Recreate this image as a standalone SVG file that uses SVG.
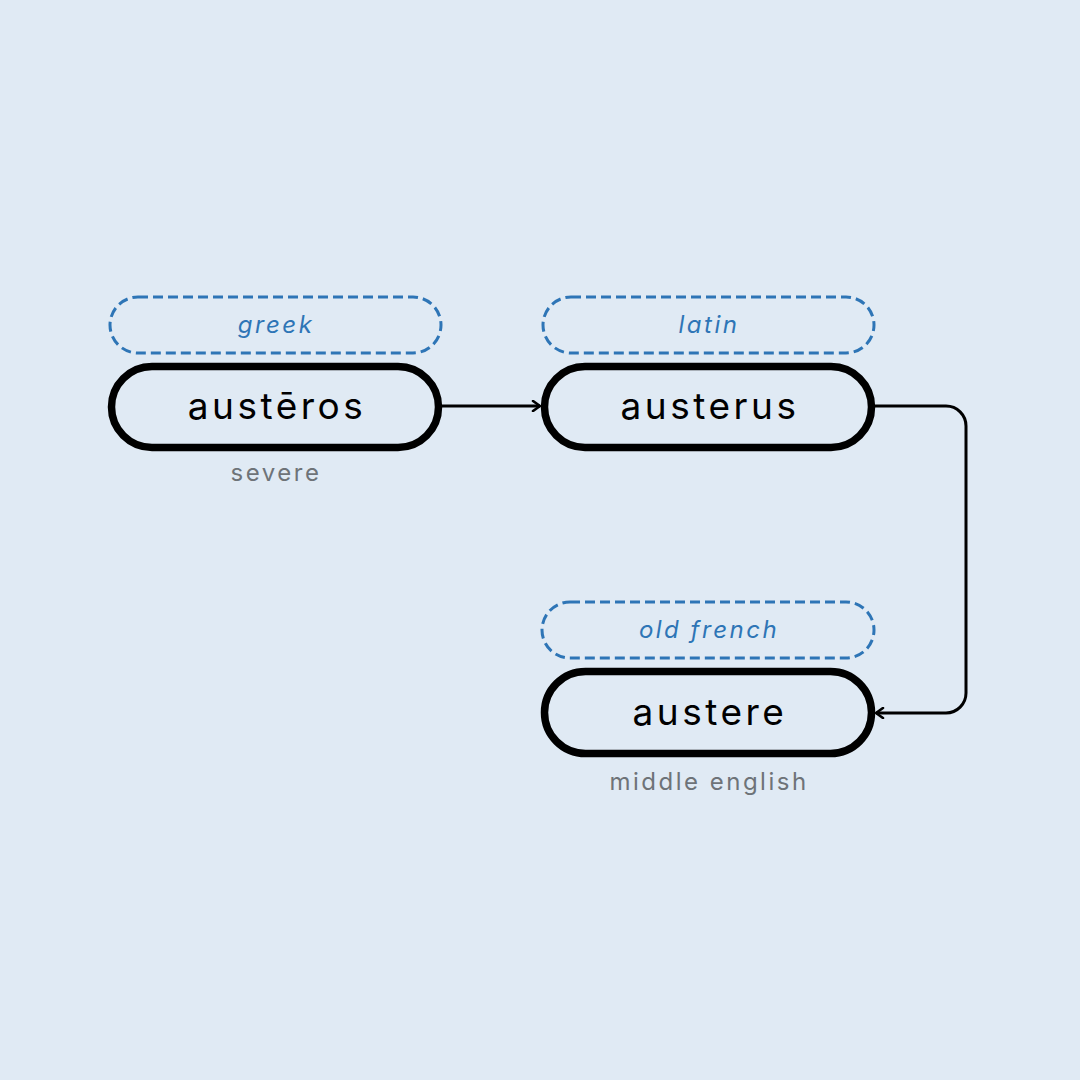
<svg xmlns="http://www.w3.org/2000/svg" width="1080" height="1080" viewBox="0 0 1080 1080">
<style>
.bg{fill:#E0EAF4}
.node{fill:none;stroke:#000;stroke-width:7.5}
.tag{fill:none;stroke:#2E75B6;stroke-width:3;stroke-dasharray:10 5}
.word{font-family:Inter,"Noto Sans",sans-serif;font-size:37px;fill:#000;text-anchor:middle;letter-spacing:3.5px}
.lang{font-family:Inter,"Noto Sans",sans-serif;font-size:24px;font-style:italic;fill:#2E75B6;text-anchor:middle;letter-spacing:2.5px}
.gloss{font-family:Inter,"Noto Sans",sans-serif;font-size:24px;fill:#6E7378;text-anchor:middle;letter-spacing:2.5px}
.edge{fill:none;stroke:#000;stroke-width:3}
</style>
<defs>
<marker id="arr" viewBox="0 0 12 12" refX="10" refY="6" markerWidth="12" markerHeight="12" markerUnits="userSpaceOnUse" orient="auto">
<path d="M3,1 L10,6 L3,11" fill="none" stroke="#000" stroke-width="2.6" stroke-linecap="round" stroke-linejoin="round"/>
</marker>
</defs>
<rect class="bg" x="0" y="0" width="1080" height="1080"/>
<g id="connectors">
<path class="edge" d="M440,406 H540" marker-end="url(#arr)"/>
<path class="edge" d="M873,406 H946 A20,20 0 0 1 966,426 V693 A20,20 0 0 1 946,713 H876" marker-end="url(#arr)"/>
</g>
<g id="node-austeros">
<rect class="tag" x="110" y="297" width="331" height="56" rx="28"/>
<text class="lang" x="276" y="333">greek</text>
<rect class="node" x="111.5" y="366.5" width="327" height="81" rx="40.5"/>
<text class="word" x="277" y="419">austēros</text>
<text class="gloss" x="276" y="481">severe</text>
</g>
<g id="node-austerus">
<rect class="tag" x="543" y="297" width="331" height="56" rx="28"/>
<text class="lang" x="709" y="333">latin</text>
<rect class="node" x="544.5" y="366.5" width="327" height="81" rx="40.5"/>
<text class="word" x="710" y="419">austerus</text>
</g>
<g id="node-austere">
<rect class="tag" x="542" y="602" width="332" height="56" rx="28"/>
<text class="lang" x="709" y="638">old french</text>
<rect class="node" x="544.5" y="671.5" width="327" height="82" rx="41"/>
<text class="word" x="710" y="725">austere</text>
<text class="gloss" x="709" y="790">middle english</text>
</g>
</svg>
